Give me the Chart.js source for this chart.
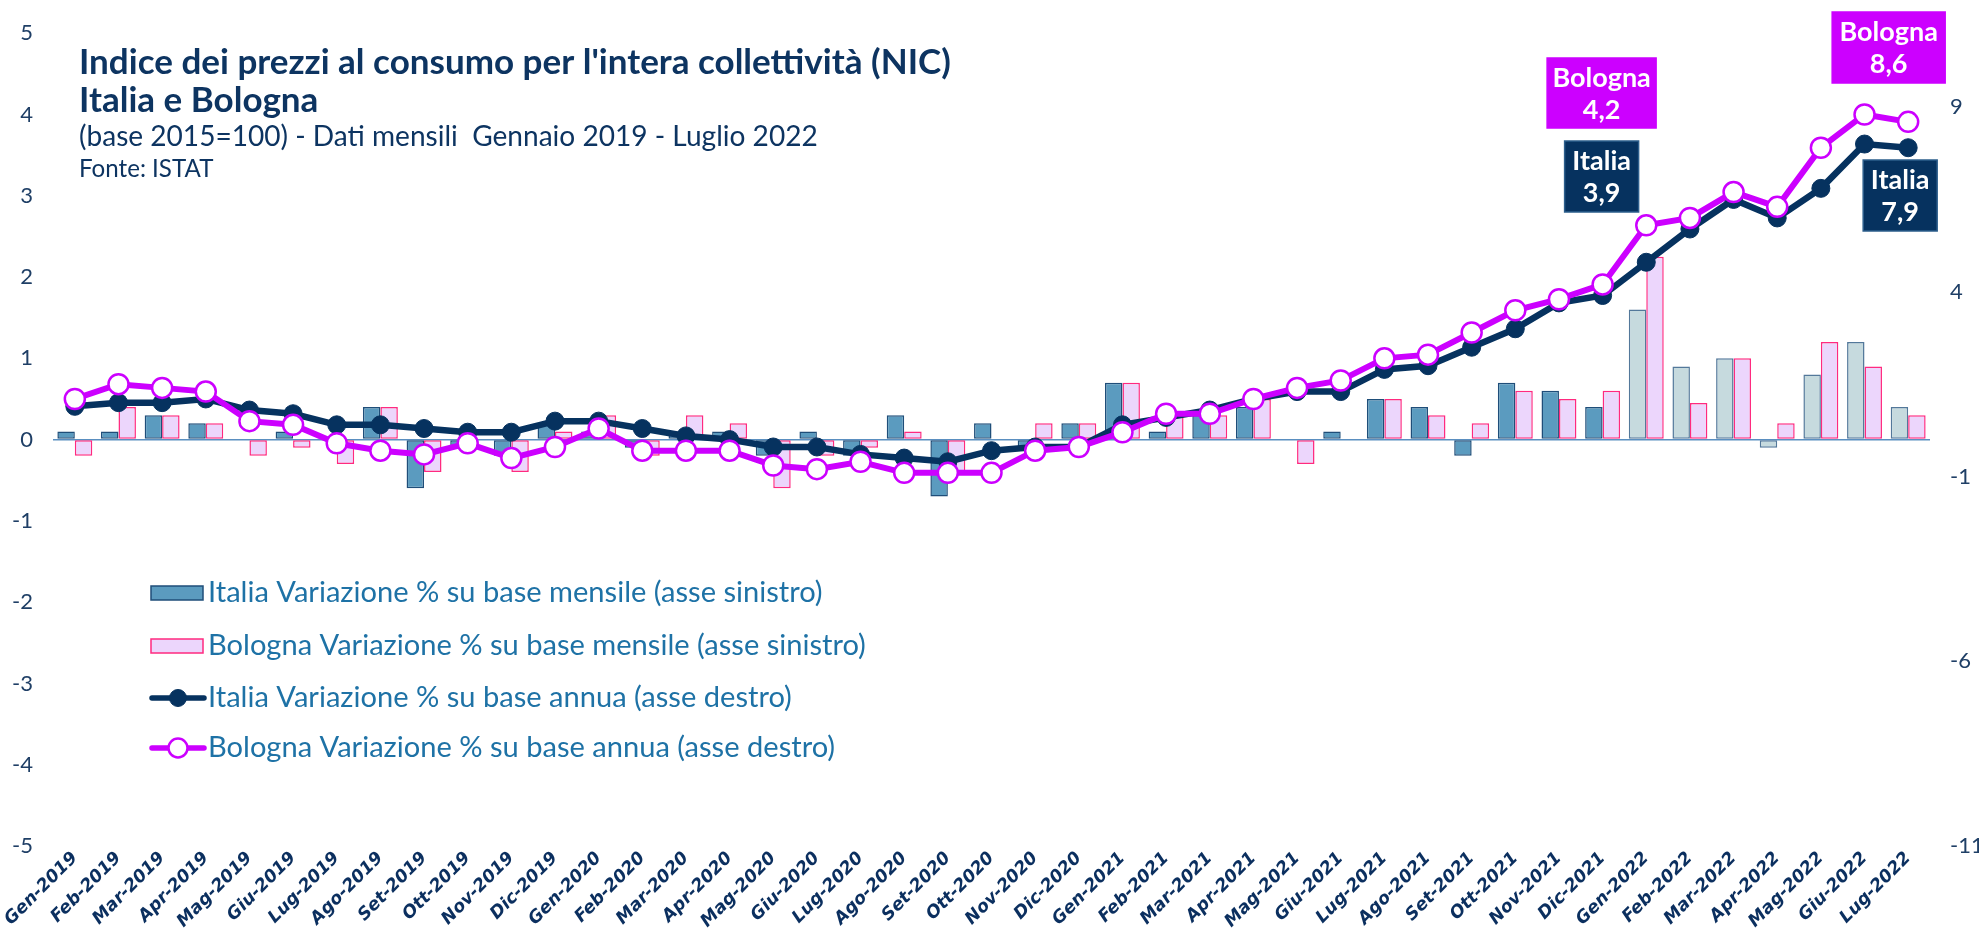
<!DOCTYPE html>
<html><head><meta charset="utf-8">
<script src="https://cdn.jsdelivr.net/npm/chart.js@4.4.1/dist/chart.umd.min.js"></script>
<style>html,body{margin:0;padding:0;background:#fff;}#wrap{width:1979px;height:936px;}</style>
</head><body><div id="wrap"><canvas id="c" width="1979" height="936"></canvas></div>
<script>
const months = ['Gen-2019','Feb-2019','Mar-2019','Apr-2019','Mag-2019','Giu-2019','Lug-2019','Ago-2019','Set-2019','Ott-2019','Nov-2019','Dic-2019',
 'Gen-2020','Feb-2020','Mar-2020','Apr-2020','Mag-2020','Giu-2020','Lug-2020','Ago-2020','Set-2020','Ott-2020','Nov-2020','Dic-2020',
 'Gen-2021','Feb-2021','Mar-2021','Apr-2021','Mag-2021','Giu-2021','Lug-2021','Ago-2021','Set-2021','Ott-2021','Nov-2021','Dic-2021',
 'Gen-2022','Feb-2022','Mar-2022','Apr-2022','Mag-2022','Giu-2022','Lug-2022'];
const italiaMensile = [0.1,0.1,0.3,0.2,0.0,0.1,0.0,0.4,-0.6,-0.1,-0.2,0.2,
 0.1,-0.1,0.1,0.1,-0.2,0.1,-0.2,0.3,-0.7,0.2,-0.1,0.2,
 0.7,0.1,0.3,0.4,0.0,0.1,0.5,0.4,-0.2,0.7,0.6,0.4,
 1.6,0.9,1.0,-0.1,0.8,1.2,0.4];
const bolognaMensile = [-0.2,0.4,0.3,0.2,-0.2,-0.1,-0.3,0.4,-0.4,0.0,-0.4,0.1,
 0.3,-0.2,0.3,0.2,-0.6,-0.2,-0.1,0.1,-0.4,0.0,0.2,0.2,
 0.7,0.3,0.3,0.5,-0.3,0.0,0.5,0.3,0.2,0.6,0.5,0.6,
 2.25,0.45,1.0,0.2,1.2,0.9,0.3];
const italiaAnnua = [0.9,1.0,1.0,1.1,0.8,0.7,0.4,0.4,0.3,0.2,0.2,0.5,
 0.5,0.3,0.1,0.0,-0.2,-0.2,-0.4,-0.5,-0.6,-0.3,-0.2,-0.2,
 0.4,0.6,0.8,1.1,1.3,1.3,1.9,2.0,2.5,3.0,3.7,3.9,
 4.8,5.7,6.5,6.0,6.8,8.0,7.9];
const bolognaAnnua = [1.1,1.5,1.4,1.3,0.5,0.4,-0.1,-0.3,-0.4,-0.1,-0.5,-0.2,
 0.3,-0.3,-0.3,-0.3,-0.7,-0.8,-0.6,-0.9,-0.9,-0.9,-0.3,-0.2,
 0.2,0.7,0.7,1.1,1.4,1.6,2.2,2.3,2.9,3.5,3.8,4.2,
 5.8,6.0,6.7,6.3,7.9,8.8,8.6];
const leftRange = [-5, 5];
const rightRange = [-11, 11];
const rightTicks = [-11, -6, -1, 4, 9];
const titleLines = ["Indice dei prezzi al consumo per l'intera collettività (NIC)", "Italia e Bologna",
 "(base 2015=100) - Dati mensili  Gennaio 2019 - Luglio 2022", "Fonte: ISTAT"];
const legendLabels = ["Italia Variazione % su base mensile (asse sinistro)",
 "Bologna Variazione % su base mensile (asse sinistro)",
 "Italia Variazione % su base annua (asse destro)",
 "Bologna Variazione % su base annua (asse destro)"];

const NAVY = '#06325f', MAG = '#cc00ff', TXT = '#0d3461', LEG = '#1e72a6', TICK = '#1f3f66';
const IT_FILL = '#5b9bbf', IT_BORDER = '#1f4e79', IT_FILL22 = '#c6dade', IT_BORDER22 = '#53789a';
const BO_FILL = '#ecd6fc', BO_BORDER = '#ff2a7f';
const SANS = 'Lato, "DejaVu Sans", sans-serif';

function fitSize(ctx, text, weight, family, target){
  ctx.font = weight + ' 100px ' + family;
  return 100 * target / ctx.measureText(text).width;
}
const fmt = v => v.toFixed(1).replace('.', ',');

const callouts = [
  {name:'Bologna', series:bolognaAnnua, idx:35, fill:MAG, border:MAG, dx:-1, w:109, top:58, h:70},
  {name:'Italia', series:italiaAnnua, idx:35, fill:NAVY, border:'#2d5f8c', dx:-1, w:74, top:141, h:71},
  {name:'Bologna', series:bolognaAnnua, idx:42, fill:MAG, border:MAG, dx:-19.5, w:113, top:12, h:71},
  {name:'Italia', series:italiaAnnua, idx:42, fill:NAVY, border:'#2d5f8c', dx:-8, w:74, top:160, h:71}
];

const decor = {
  id:'decor',
  afterDraw(chart){
    const ctx = chart.ctx; const xs = chart.scales.x;
    ctx.save();
    ctx.fillStyle = TXT; ctx.textAlign = 'left'; ctx.textBaseline = 'alphabetic';
    let s = fitSize(ctx, titleLines[0], 'bold', SANS, 872);
    ctx.font = 'bold ' + s + 'px ' + SANS; ctx.fillText(titleLines[0], 79, 74);
    ctx.fillText(titleLines[1], 79, 112);
    s = fitSize(ctx, titleLines[2], 'normal', SANS, 739);
    ctx.font = 'normal ' + s + 'px ' + SANS; ctx.fillText(titleLines[2], 79, 146);
    ctx.font = 'normal ' + (s*0.86) + 'px ' + SANS; ctx.fillText(titleLines[3], 79, 177);
    const ds = chart.data.datasets;
    const order = [2,3,1,0];
    const ys = [593,646,698,748];
    const ls = fitSize(ctx, legendLabels[0], 'normal', SANS, 615);
    order.forEach((di, k) => {
      const d = ds[di]; const y = ys[k];
      if (d.type === 'bar') {
        ctx.fillStyle = k===0 ? IT_FILL : BO_FILL;
        ctx.strokeStyle = k===0 ? IT_BORDER : BO_BORDER; ctx.lineWidth = 1.5;
        ctx.fillRect(151, y-7, 52, 14); ctx.strokeRect(151, y-7, 52, 14);
      } else {
        ctx.strokeStyle = d.borderColor; ctx.lineWidth = 5.5; ctx.lineCap='round';
        ctx.beginPath(); ctx.moveTo(152, y); ctx.lineTo(204, y); ctx.stroke();
        ctx.beginPath(); ctx.arc(178, y, d.pointRadius-0.5, 0, Math.PI*2);
        ctx.fillStyle = d.pointBackgroundColor; ctx.fill();
        ctx.lineWidth = d.pointBorderWidth; ctx.strokeStyle = d.pointBorderColor; ctx.stroke();
      }
      ctx.fillStyle = LEG; ctx.textBaseline = 'middle'; ctx.textAlign = 'left';
      ctx.font = 'normal ' + ls + 'px ' + SANS;
      ctx.fillText(d.label, 208, y);
    });
    callouts.forEach(c => {
      const cx = xs.getPixelForValue(c.idx) + c.dx;
      const x0 = cx - c.w/2;
      ctx.fillStyle = c.fill; ctx.fillRect(x0, c.top, c.w, c.h);
      ctx.strokeStyle = c.border; ctx.lineWidth = 1.5; ctx.strokeRect(x0, c.top, c.w, c.h);
      ctx.fillStyle = '#ffffff'; ctx.textAlign = 'center'; ctx.textBaseline = 'middle';
      ctx.font = 'bold 27px ' + SANS;
      ctx.fillText(c.name, cx, c.top + 20);
      ctx.fillText(fmt(c.series[c.idx]), cx, c.top + 52);
    });
    ctx.restore();
  }
};

new Chart(document.getElementById('c'), {
  type:'bar',
  data:{
    labels: months,
    datasets:[
      {type:'line', label:legendLabels[3], data:bolognaAnnua, yAxisID:'y1', order:0,
       borderColor:MAG, borderWidth:6, pointRadius:10, pointHoverRadius:10, pointBackgroundColor:'#ffffff',
       pointBorderColor:MAG, pointBorderWidth:2.5, tension:0},
      {type:'line', label:legendLabels[2], data:italiaAnnua, yAxisID:'y1', order:1,
       borderColor:NAVY, borderWidth:6.5, pointRadius:9, pointHoverRadius:9, pointBackgroundColor:NAVY,
       pointBorderColor:NAVY, pointBorderWidth:1, tension:0},
      {type:'bar', label:legendLabels[0], data:italiaMensile, yAxisID:'y', order:2,
       backgroundColor: c => c.dataIndex >= 36 ? IT_FILL22 : IT_FILL,
       borderColor: c => c.dataIndex >= 36 ? IT_BORDER22 : IT_BORDER,
       borderWidth:1.5, borderSkipped:false, barPercentage:1.0, categoryPercentage:0.8},
      {type:'bar', label:legendLabels[1], data:bolognaMensile, yAxisID:'y', order:3,
       backgroundColor:BO_FILL, borderColor:BO_BORDER, borderWidth:1.5, borderSkipped:false,
       barPercentage:1.0, categoryPercentage:0.8}
    ]
  },
  options:{
    responsive:false, animation:false, devicePixelRatio:1,
    layout:{padding:{top:25, left:0, right:0, bottom:0}},
    plugins:{legend:{display:false}, title:{display:false}, tooltip:{enabled:false}},
    scales:{
      x:{grid:{display:false, drawTicks:false}, border:{display:false},
         ticks:{autoSkip:false, minRotation:45, maxRotation:45, padding:2, color:'#0b2f5f',
                font:{family:'"DejaVu Sans", sans-serif', size:17.5, weight:'bold', style:'italic'}},
         afterFit: a => { a.height = 90; }},
      y:{position:'left', min:leftRange[0], max:leftRange[1],
         ticks:{stepSize:1, padding:20, color:TICK, font:{family:SANS, size:22}},
         grid:{drawTicks:false, lineWidth:1.5, color: c => (c.tick && c.tick.value === 0) ? '#5a8fc0' : 'rgba(0,0,0,0)'},
         border:{display:false},
         afterFit: a => { a.width = 53; }},
      y1:{position:'right', min:rightRange[0], max:rightRange[1],
         afterBuildTicks: a => { a.ticks = rightTicks.map(v => ({value:v})); },
         ticks:{padding:20, color:TICK, font:{family:SANS, size:22}},
         grid:{display:false, drawTicks:false}, border:{display:false},
         afterFit: a => { a.width = 49; }}
    }
  },
  plugins:[decor]
});
</script></body></html>
